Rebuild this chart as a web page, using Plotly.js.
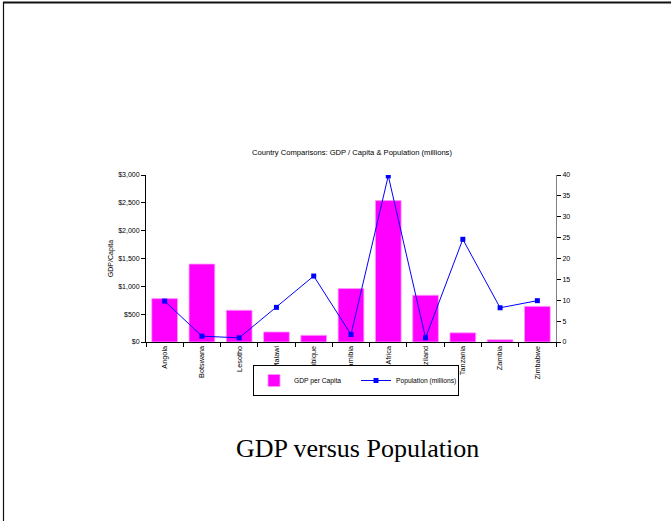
<!DOCTYPE html>
<html>
<head>
<meta charset="utf-8">
<script src="https://cdn.plot.ly/plotly-3.0.1.min.js"></script>
<style>
html,body{margin:0;padding:0;background:#fff;}
#chart{width:671px;height:521px;}
</style>
</head>
<body>
<div id="chart"></div>
<script>
var countries = ["Angola","Botswana","Lesotho","Malawi","Mozambique","Namibia","South Africa","Swaziland","Tanzania","Zambia","Zimbabwe"];
var gdpPerCapita = [780, 1400, 570, 180, 120, 960, 2540, 840, 165, 40, 640];
var population = [9.8, 1.4, 1.0, 8.3, 15.8, 1.8, 39.8, 1.0, 24.6, 8.2, 9.9];
var leftTicks = [0, 500, 1000, 1500, 2000, 2500, 3000];
var leftTickText = leftTicks.map(function(v){ return "$" + v.toLocaleString("en-US"); });
var rightTicks = [0, 5, 10, 15, 20, 25, 30, 35, 40];

var L = 146, R = 556, T = 175, B = 342, W = 671, H = 521;
function px(x){ return (x - L) / (R - L); }
function py(y){ return (B - y) / (B - T); }

var f = "Liberation Sans, Arial, sans-serif";

var traces = [
  {
    type: "bar", x: countries, y: gdpPerCapita, name: "GDP per Capita",
    marker: {color: "#FF00FF", line: {color: "#FF99FF", width: 0.8}},
    yaxis: "y"
  },
  {
    type: "scatter", mode: "lines+markers", x: countries, y: population,
    name: "Population (millions)", yaxis: "y2",
    line: {color: "#0000FF", width: 1},
    marker: {color: "#0000FF", symbol: "square", size: 5}
  }
];

var layout = {
  width: W, height: H,
  margin: {l: L, r: W - R, t: T, b: H - B, pad: 0, autoexpand: false},
  paper_bgcolor: "#ffffff", plot_bgcolor: "#ffffff",
  font: {family: f, size: 7, color: "#000"},
  bargap: 0.31,
  showlegend: true,
  title: {text: "Country Comparisons: GDP / Capita & Population (millions)",
          font: {family: f, size: 7.6, color: "#000"},
          x: px(352), xanchor: "center", xref: "paper",
          y: 1 - 152 / H, yanchor: "middle", yref: "container"},
  xaxis: {
    type: "category", range: [-0.5, countries.length - 0.5],
    showline: true, linecolor: "#000", linewidth: 1,
    ticks: "outside", ticklen: 4, tickcolor: "#000", tickson: "boundaries",
    tickangle: -90, tickfont: {family: f, size: 7.3, color: "#000"},
    showgrid: false, zeroline: false, automargin: false
  },
  yaxis: {
    range: [0, 3000], tickvals: leftTicks, ticktext: leftTickText,
    showline: true, linecolor: "#000", linewidth: 1,
    ticks: "outside", ticklen: 4, tickcolor: "#000",
    tickfont: {family: f, size: 7, color: "#000"},
    showgrid: false, zeroline: false, automargin: false,
    title: {text: "GDP/Capita", font: {family: f, size: 7, color: "#000"}, standoff: 3}
  },
  yaxis2: {
    overlaying: "y", side: "right", range: [0, 40], tickvals: rightTicks,
    showline: true, linecolor: "#808080", linewidth: 1,
    ticks: "outside", ticklen: 4, tickcolor: "#000",
    tickfont: {family: f, size: 7, color: "#000"},
    showgrid: false, zeroline: false, automargin: false
  },
  legend: {
    orientation: "h", x: px(253), y: py(365), xanchor: "left", yanchor: "top",
    bgcolor: "#ffffff", bordercolor: "#000", borderwidth: 1,
    font: {family: f, size: 6.7, color: "#000"},
    entrywidth: 57, itemwidth: 30, tracegroupgap: 0
  },
  annotations: [
    {text: "GDP versus Population", xref: "paper", yref: "paper",
     x: px(357), y: py(448), xanchor: "center", yanchor: "middle",
     showarrow: false, font: {family: "Liberation Serif, Times New Roman, serif", size: 26, color: "#000"}}
  ],
  shapes: [
    {type: "line", xref: "paper", yref: "paper", x0: px(3), x1: px(671), y0: py(2.5), y1: py(2.5),
     line: {color: "#111", width: 2}},
    {type: "line", xref: "paper", yref: "paper", x0: px(3.5), x1: px(3.5), y0: py(2), y1: py(521),
     line: {color: "#111", width: 1.2}}
  ]
};

Plotly.newPlot("chart", traces, layout, {staticPlot: true, displayModeBar: false});
</script>
</body>
</html>
